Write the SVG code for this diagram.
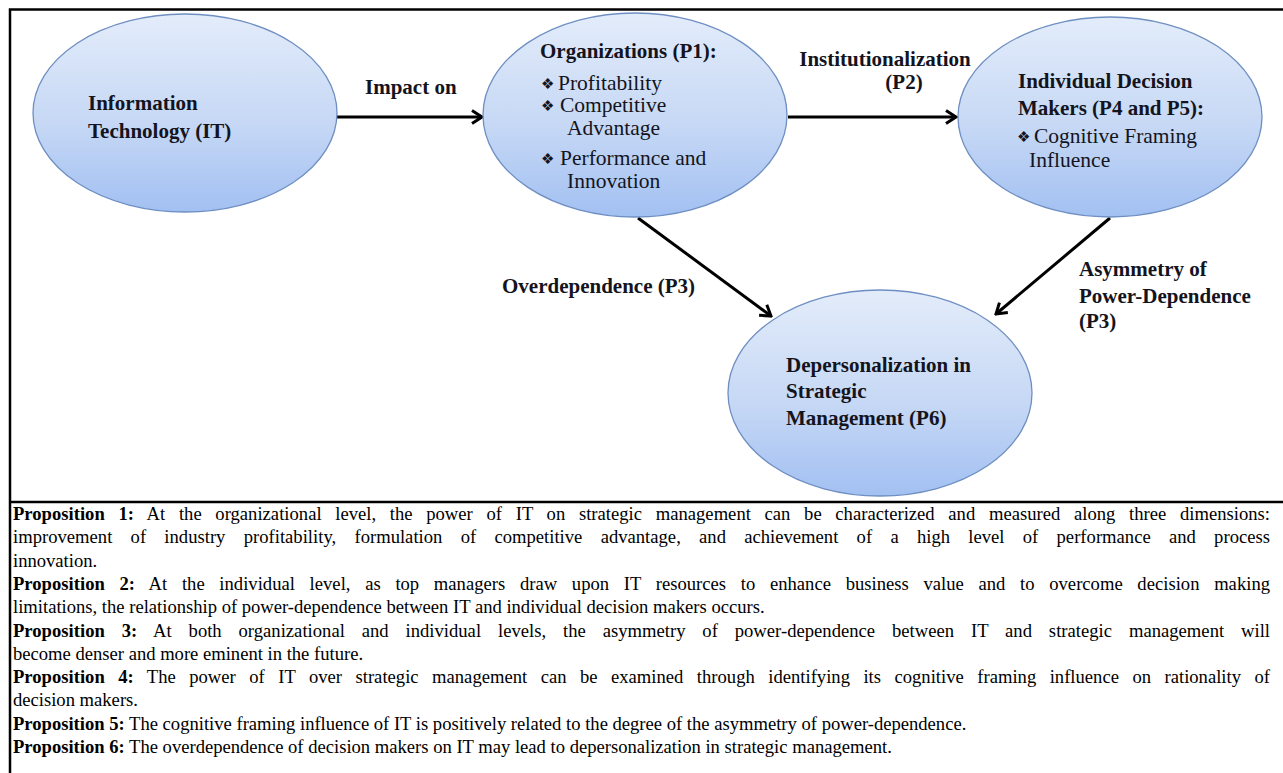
<svg xmlns="http://www.w3.org/2000/svg" width="1283" height="773" viewBox="0 0 1283 773">
<style>
.node ellipse{fill:url(#eg);stroke:#6f8fc2;stroke-width:1.3}
.t{font-family:"Liberation Serif","Times New Roman",serif;font-size:21px;font-weight:bold;fill:#141420}
.r{font-weight:normal;font-size:21.5px}
.bu{font-family:"DejaVu Sans",sans-serif;font-size:15px;font-weight:normal}
.body{font-family:"Liberation Serif","Times New Roman",serif;font-size:18.6px;fill:#000}
.pb{font-weight:bold}
.frame{stroke:#000;stroke-width:2.5;fill:none}
.conn line{stroke:#000;stroke-width:3;marker-end:url(#ah)}
</style>
<defs>
<linearGradient id="eg" x1="0" y1="0" x2="0" y2="1">
<stop offset="0" stop-color="#e3ecfa"/>
<stop offset="0.55" stop-color="#c6d8f5"/>
<stop offset="1" stop-color="#a2c0f2"/>
</linearGradient>
<marker id="ah" markerUnits="userSpaceOnUse" viewBox="-13 -8 15 16" markerWidth="15" markerHeight="16" refX="0" refY="0" orient="auto">
<path d="M-10,-6.5 L0,0 L-10,6.5" fill="none" stroke="#000" stroke-width="3"/>
</marker>
</defs>
<rect width="1283" height="773" fill="#fff"/>
<g id="frame">
<path class="frame" d="M10,773 V9.5 H1283"/>
<line class="frame" x1="10" y1="502" x2="1283" y2="502"/>
</g>
<g id="connectors" class="conn">
<line x1="337" y1="117" x2="482" y2="117"/>
<line x1="788" y1="117" x2="956" y2="117"/>
<line x1="638" y1="218" x2="771" y2="316"/>
<line x1="1110" y1="218" x2="996" y2="314"/>
</g>
<g id="labels" class="t">
<text x="365" y="94">Impact on</text>
<text x="885" y="66" text-anchor="middle">Institutionalization</text>
<text x="904" y="89" text-anchor="middle">(P2)</text>
<text x="502" y="293">Overdependence (P3)</text>
<text x="1079" y="276">Asymmetry of</text>
<text x="1079" y="303">Power-Dependence</text>
<text x="1079" y="328">(P3)</text>
</g>
<g id="node-it" class="node">
<ellipse cx="185" cy="113" rx="152" ry="99"/>
<text class="t" x="88" y="110">Information</text>
<text class="t" x="88" y="138">Technology (IT)</text>
</g>
<g id="node-org" class="node">
<ellipse cx="635" cy="115" rx="152" ry="102"/>
<text class="t" x="540" y="58">Organizations (P1):</text>
<text class="t"><tspan class="bu" x="541" y="89">❖</tspan><tspan class="r" x="558" y="90">Profitability</tspan></text>
<text class="t"><tspan class="bu" x="541" y="111">❖</tspan><tspan class="r" x="560" y="112">Competitive</tspan></text>
<text class="t r" x="567" y="135">Advantage</text>
<text class="t"><tspan class="bu" x="541" y="164">❖</tspan><tspan class="r" x="560" y="165">Performance and</tspan></text>
<text class="t r" x="567" y="188">Innovation</text>
</g>
<g id="node-idm" class="node">
<ellipse cx="1110" cy="117" rx="152" ry="100"/>
<text class="t" x="1018" y="88">Individual Decision</text>
<text class="t" x="1018" y="115">Makers (P4 and P5):</text>
<text class="t"><tspan class="bu" x="1017" y="142">❖</tspan><tspan class="r" x="1034" y="143">Cognitive Framing</tspan></text>
<text class="t r" x="1029" y="167">Influence</text>
</g>
<g id="node-dep" class="node">
<ellipse cx="880" cy="393" rx="152" ry="103"/>
<text class="t" x="786" y="372">Depersonalization in</text>
<text class="t" x="786" y="398">Strategic</text>
<text class="t" x="786" y="425">Management (P6)</text>
</g>
<g id="propositions" class="body">
<text x="13" y="520" word-spacing="9" textLength="1257" lengthAdjust="spacing"><tspan class="pb">Proposition 1:</tspan> At the organizational level, the power of IT on strategic management can be characterized and measured along three dimensions:</text>
<text x="13" y="543.3" word-spacing="13.6" textLength="1257" lengthAdjust="spacing">improvement of industry profitability, formulation of competitive advantage, and achievement of a high level of performance and process</text>
<text x="13" y="566.6">innovation.</text>
<text x="13" y="589.9" word-spacing="10" textLength="1257" lengthAdjust="spacing"><tspan class="pb">Proposition 2:</tspan> At the individual level, as top managers draw upon IT resources to enhance business value and to overcome decision making</text>
<text x="13" y="613.2">limitations, the relationship of power-dependence between IT and individual decision makers occurs.</text>
<text x="13" y="636.5" word-spacing="12.2" textLength="1257" lengthAdjust="spacing"><tspan class="pb">Proposition 3:</tspan> At both organizational and individual levels, the asymmetry of power-dependence between IT and strategic management will</text>
<text x="13" y="659.8">become denser and more eminent in the future.</text>
<text x="13" y="683.1" word-spacing="8.8" textLength="1257" lengthAdjust="spacing"><tspan class="pb">Proposition 4:</tspan> The power of IT over strategic management can be examined through identifying its cognitive framing influence on rationality of</text>
<text x="13" y="706.4">decision makers.</text>
<text x="13" y="729.7"><tspan class="pb">Proposition 5:</tspan> The cognitive framing influence of IT is positively related to the degree of the asymmetry of power-dependence.</text>
<text x="13" y="753"><tspan class="pb">Proposition 6:</tspan> The overdependence of decision makers on IT may lead to depersonalization in strategic management.</text>
</g>
</svg>
